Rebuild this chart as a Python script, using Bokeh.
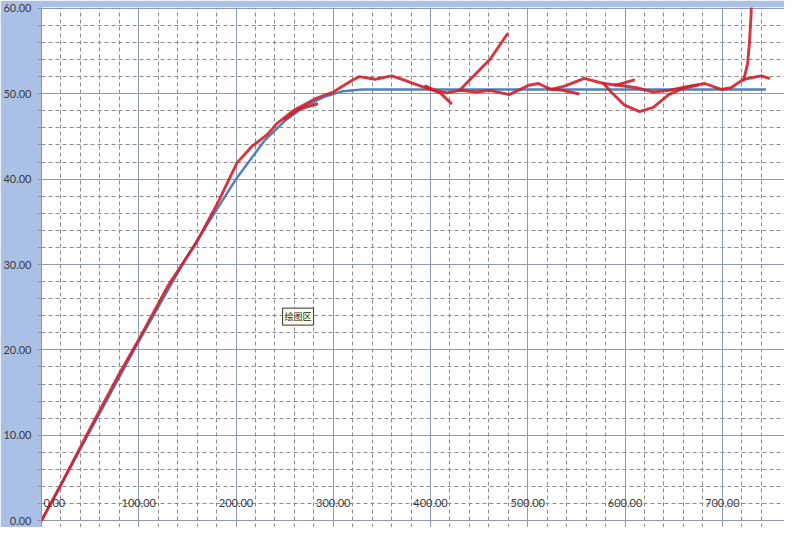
from bokeh.plotting import figure
from bokeh.models import FixedTicker, PrintfTickFormatter, Grid, Label, Range1d
from bokeh.embed import file_html
from bokeh.resources import INLINE

# ---- data ----
x_ticks = [0, 100, 200, 300, 400, 500, 600, 700]
x_minor = [v for v in range(20, 760, 20) if v % 100 != 0]
x_labels = ["0.00", "100.00", "200.00", "300.00", "400.00", "500.00", "600.00", "700.00"]
y_ticks = [0, 10, 20, 30, 40, 50, 60]
y_minor = [v for v in range(2, 60, 2) if v % 10 != 0]

blue_x = [0, 50, 100, 150, 200, 230, 250, 270, 290, 310, 330, 745]
blue_y = [0, 10.5, 21.0, 31.0, 40.0, 44.6, 46.8, 48.5, 49.6, 50.3, 50.5, 50.5]

red_a_x = [0, 20, 50, 80, 100, 130, 159, 182, 201, 216, 232, 242, 260, 283, 300, 320, 327, 343, 360, 373, 387, 400, 410, 421]
red_a_y = [0, 4.2, 10.8, 17.2, 21.2, 27.5, 32.5, 37.4, 41.9, 43.8, 45.2, 46.5, 48.1, 49.5, 50.2, 51.6, 52.0, 51.7, 52.1, 51.6, 51.0, 50.5, 50.1, 48.9]

red_b_x = [250, 265, 283]
red_b_y = [47.0, 48.2, 48.8]

red_c_x = [395, 405, 417, 430, 441, 461, 479]
red_c_y = [50.9, 50.4, 50.1, 50.4, 51.7, 54.0, 57.0]

red_d_x = [430, 448, 461, 481, 501, 511, 524, 538, 558, 578, 599, 612, 629, 645, 662, 682, 699, 709, 722, 740, 748]
red_d_y = [50.4, 50.2, 50.4, 49.9, 51.0, 51.2, 50.5, 50.9, 51.8, 51.2, 50.9, 50.7, 50.2, 50.4, 50.8, 51.2, 50.5, 50.7, 51.7, 52.1, 51.8]

red_e_x = [520, 536, 552]
red_e_y = [50.6, 50.4, 50.0]

red_f_x = [578, 585, 599, 615, 629, 645, 659, 675]
red_f_y = [51.2, 50.3, 48.7, 47.9, 48.4, 49.9, 50.6, 51.0]

red_g_x = [590, 600, 609]
red_g_y = [51.0, 51.3, 51.6]

red_h_x = [722, 726, 728, 729.5, 730.5]
red_h_y = [51.6, 53.5, 56.0, 59.0, 62.0]

W, H = 784, 527

p = figure(width=W, height=H, output_backend="svg", toolbar_location=None,
           x_range=Range1d(0, 764), y_range=Range1d(-0.8, 60.1),
           x_axis_location=None, min_border_left=41, min_border_top=7,
           min_border_right=0, min_border_bottom=0)
p.border_fill_color = "#abc0e6"
p.background_fill_color = "#ffffff"
p.outline_line_color = None

# y axis
yax = p.yaxis[0]
yax.ticker = FixedTicker(ticks=y_ticks, minor_ticks=y_minor)
yax.formatter = PrintfTickFormatter(format="%.2f")
yax.axis_line_color = "#8397b0"
yax.major_tick_line_color = "#8397b0"
yax.minor_tick_line_color = "#8397b0"
yax.major_tick_in = 0
yax.major_tick_out = 4
yax.minor_tick_in = 0
yax.minor_tick_out = 4
yax.major_label_standoff = 6
yax.major_label_text_font = "Lato"
yax.major_label_text_font_size = "11px"
yax.major_label_text_color = "#3a3a3a"

# grids
p.ygrid.ticker = FixedTicker(ticks=y_ticks, minor_ticks=y_minor)
p.ygrid.grid_line_color = "#8a9cb3"
p.ygrid.minor_grid_line_color = "#8c8c8c"
p.ygrid.minor_grid_line_dash = "4 3"
xg = Grid(dimension=0, ticker=FixedTicker(ticks=x_ticks, minor_ticks=x_minor))
xg.grid_line_color = "#8a9cb3"
xg.minor_grid_line_color = "#8c8c8c"
xg.minor_grid_line_dash = "4 3"
p.add_layout(xg)

# x tick labels drawn inside plot area (first one kept inside the frame)
for i, (t, s) in enumerate(zip(x_ticks, x_labels)):
    p.add_layout(Label(x=t, y=0, text=s, y_offset=18, x_offset=(2 if i == 0 else 0),
                       text_align=("left" if i == 0 else "center"),
                       text_baseline="middle", text_font="Lato", text_font_size="11px",
                       text_color="#3a3a3a"))

# series
p.line(blue_x, blue_y, line_color="#4f81bd", line_width=2.5)

red = "#d0202a"
for xs, ys in [(red_a_x, red_a_y), (red_b_x, red_b_y), (red_c_x, red_c_y), (red_d_x, red_d_y),
               (red_e_x, red_e_y), (red_f_x, red_f_y), (red_g_x, red_g_y), (red_h_x, red_h_y)]:
    p.line(xs, ys, line_color=red, line_width=2.9, line_alpha=0.9,
           line_join="round", line_cap="round")

lab = Label(x=247.9, y=22.9, text="绘图区", text_font="Noto Sans CJK SC", text_font_size="9px",
            text_color="#222222", background_fill_color="#fbfbe8", border_line_color="#333333",
            padding=2)
p.add_layout(lab)

open("out.html", "w").write(file_html(p, INLINE))
